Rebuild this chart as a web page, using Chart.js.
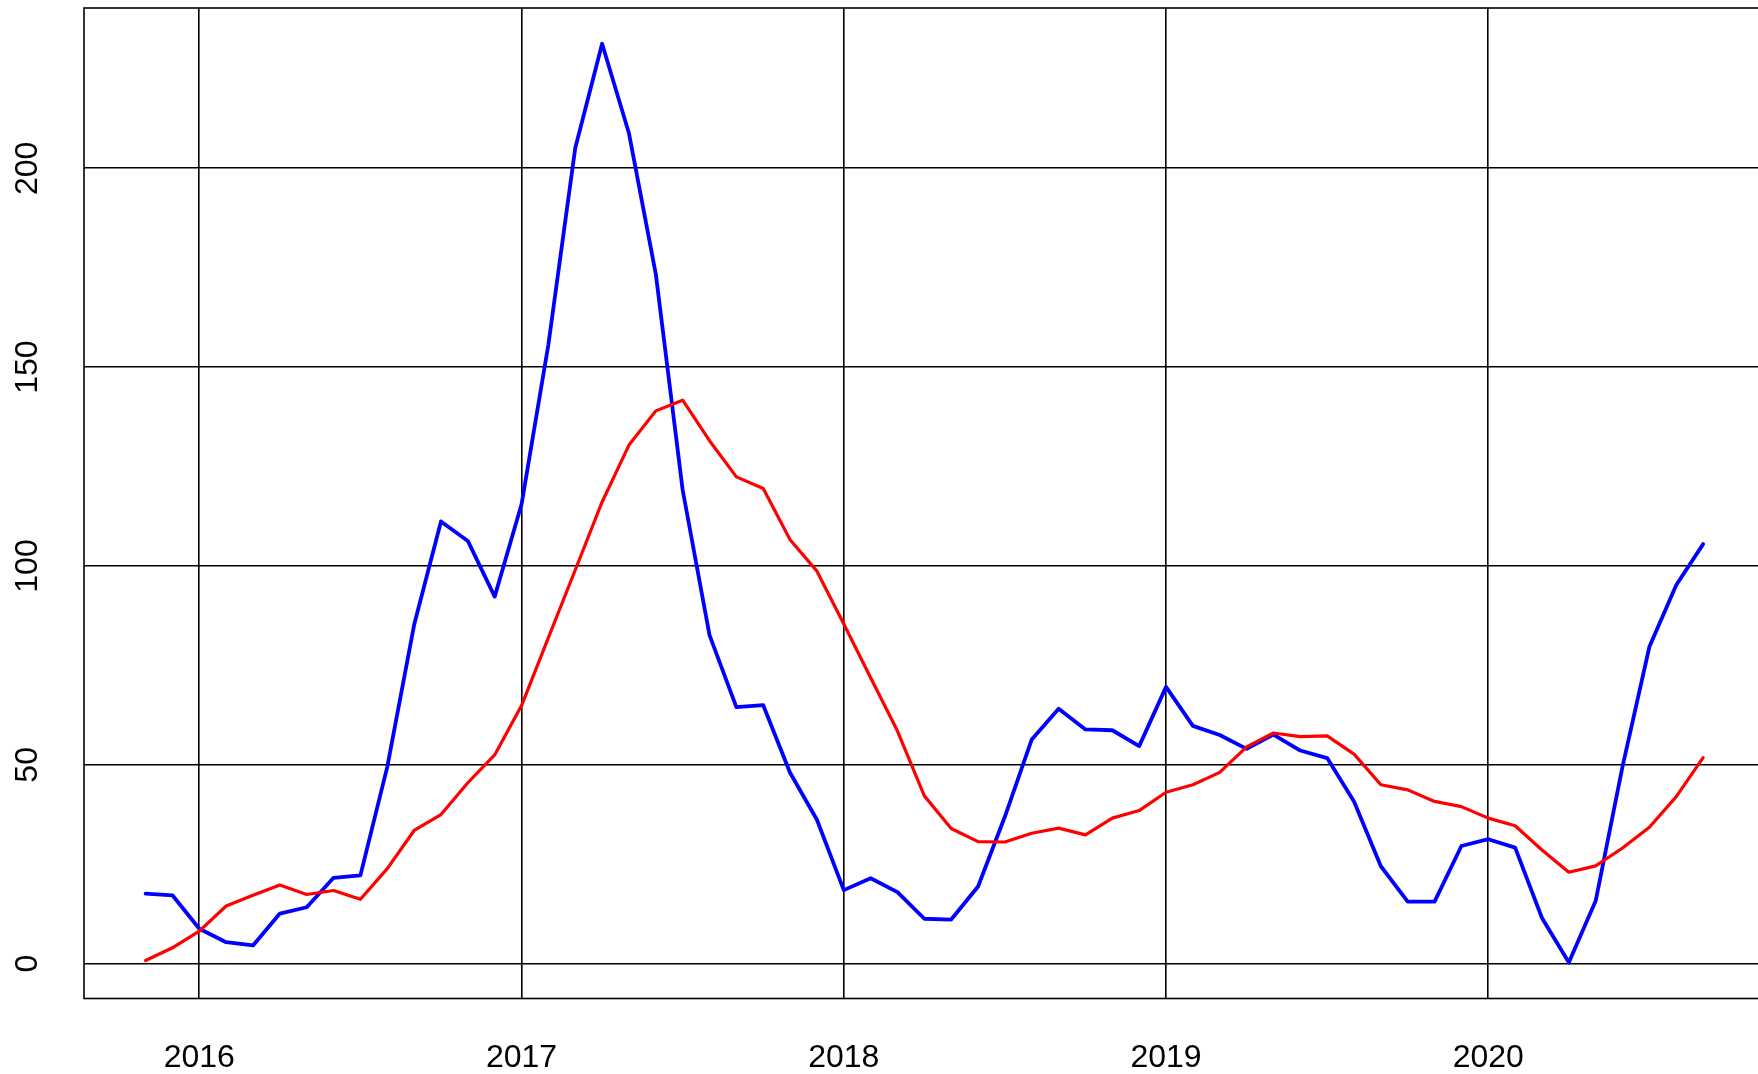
<!DOCTYPE html>
<html lang="en">
<head>
    <meta charset="UTF-8">
    <title>Monthly series 2015-2020</title>
    <script src="https://cdn.jsdelivr.net/npm/chart.js"></script>
    <style>
        html, body {
            margin: 0;
            padding: 0;
            background: #ffffff;
            overflow: hidden;
        }
        #chart {
            display: block;
        }
    </style>
</head>
<body>
    <canvas id="chart" width="1780" height="1074"></canvas>

    <script>
        // months of the two series
        const months = [
            '2015-11', '2015-12',
            '2016-01', '2016-02', '2016-03', '2016-04', '2016-05', '2016-06',
            '2016-07', '2016-08', '2016-09', '2016-10', '2016-11', '2016-12',
            '2017-01', '2017-02', '2017-03', '2017-04', '2017-05', '2017-06',
            '2017-07', '2017-08', '2017-09', '2017-10', '2017-11', '2017-12',
            '2018-01', '2018-02', '2018-03', '2018-04', '2018-05', '2018-06',
            '2018-07', '2018-08', '2018-09', '2018-10', '2018-11', '2018-12',
            '2019-01', '2019-02', '2019-03', '2019-04', '2019-05', '2019-06',
            '2019-07', '2019-08', '2019-09', '2019-10', '2019-11', '2019-12',
            '2020-01', '2020-02', '2020-03', '2020-04', '2020-05', '2020-06',
            '2020-07', '2020-08', '2020-09'
        ];

        // blue series (raw monthly values)
        const seriesBlue = [
            17.6, 17.2,
            8.8, 5.4, 4.6, 12.6, 14.2, 21.6, 22.2, 49.5, 85.2, 111.2, 106.3, 92.3,
            115.5, 155.7, 205.1, 231.3, 208.8, 173.4, 119.1, 82.6, 64.5, 65.0, 48.0, 36.2,
            18.5, 21.5, 18.0, 11.3, 11.1, 19.4, 37.0, 56.4, 64.1, 58.9, 58.7, 54.7,
            69.6, 59.8, 57.5, 54.0, 57.6, 53.6, 51.7, 40.8, 24.5, 15.6, 15.6, 29.6,
            31.3, 29.2, 11.5, 0.3, 15.8, 49.6, 79.7, 95.2, 105.5
        ];

        // red series (smoother trend)
        const seriesRed = [
            0.8, 4.0,
            8.2, 14.5, 17.2, 19.8, 17.4, 18.4, 16.2, 23.9, 33.5, 37.5, 45.5, 52.5,
            64.9, 82.0, 99.0, 116.1, 130.4, 139.0, 141.7, 131.5, 122.4, 119.5, 106.6, 98.7,
            85.4, 71.9, 58.5, 42.2, 34.0, 30.7, 30.6, 32.8, 34.1, 32.4, 36.6, 38.5,
            43.1, 45.0, 48.1, 54.5, 58.0, 57.1, 57.3, 52.7, 45.0, 43.7, 40.8, 39.5,
            36.6, 34.7, 28.6, 23.0, 24.6, 29.1, 34.3, 42.0, 51.8
        ];

        // tick values
        const yearTicks = [2016, 2017, 2018, 2019, 2020];
        const valueTicks = [0, 50, 100, 150, 200];

        const labelFont = '32px "Liberation Sans", Arial, Helvetica, sans-serif';

        // month string -> decimal year
        function toYear(m) {
            const parts = m.split('-');
            return Number(parts[0]) + (Number(parts[1]) - 1) / 12;
        }

        function toPoints(values) {
            return values.map((v, i) => ({ x: toYear(months[i]), y: v }));
        }

        // box round the plot and the axis labels, R style
        const framePlugin = {
            id: 'frame',
            afterDraw(chart) {
                const ctx = chart.ctx;
                const area = chart.chartArea;
                const xs = chart.scales.x;
                const ys = chart.scales.y;
                ctx.save();
                ctx.strokeStyle = '#000000';
                ctx.lineWidth = 1.6;
                ctx.strokeRect(area.left, area.top, area.right - area.left, area.bottom - area.top);

                ctx.fillStyle = '#000000';
                ctx.font = labelFont;
                ctx.textAlign = 'center';
                ctx.textBaseline = 'alphabetic';
                yearTicks.forEach(t => {
                    ctx.fillText(String(t), xs.getPixelForValue(t), 1067);
                });

                valueTicks.forEach(t => {
                    ctx.save();
                    ctx.translate(37, ys.getPixelForValue(t));
                    ctx.rotate(-Math.PI / 2);
                    ctx.fillText(String(t), 0, 0);
                    ctx.restore();
                });
                ctx.restore();
            }
        };

        new Chart(document.getElementById('chart'), {
            type: 'line',
            data: {
                datasets: [
                    {
                        label: 'red',
                        data: toPoints(seriesRed),
                        borderColor: '#ff0000',
                        borderWidth: 3.2,
                        pointRadius: 0,
                        tension: 0,
                        borderJoinStyle: 'round',
                        borderCapStyle: 'round',
                        fill: false
                    },
                    {
                        label: 'blue',
                        data: toPoints(seriesBlue),
                        borderColor: '#0000ff',
                        borderWidth: 3.8,
                        pointRadius: 0,
                        tension: 0,
                        borderJoinStyle: 'round',
                        borderCapStyle: 'round',
                        fill: false
                    }
                ]
            },
            options: {
                responsive: false,
                animation: false,
                devicePixelRatio: 1,
                layout: {
                    padding: { left: 84, top: 8, right: 15, bottom: 75.5 }
                },
                plugins: {
                    legend: { display: false },
                    tooltip: { enabled: false }
                },
                scales: {
                    x: {
                        type: 'linear',
                        min: 2015.6422,
                        max: 2020.8587,
                        afterBuildTicks: scale => {
                            scale.ticks = yearTicks.map(v => ({ value: v }));
                        },
                        ticks: { display: false },
                        grid: { color: '#000000', lineWidth: 1.6, drawTicks: false },
                        border: { display: false }
                    },
                    y: {
                        type: 'linear',
                        min: -8.75,
                        max: 240.3,
                        afterBuildTicks: scale => {
                            scale.ticks = valueTicks.map(v => ({ value: v }));
                        },
                        ticks: { display: false },
                        grid: { color: '#000000', lineWidth: 1.6, drawTicks: false },
                        border: { display: false }
                    }
                }
            },
            plugins: [framePlugin]
        });
    </script>
</body>
</html>
